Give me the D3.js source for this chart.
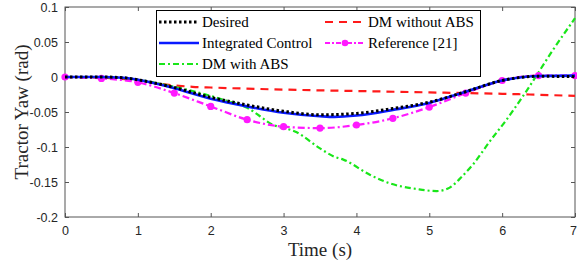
<!DOCTYPE html>
<html>
<head>
<meta charset="utf-8">
<script src="https://cdn.jsdelivr.net/npm/d3@7"></script>
<style>
  body { margin: 0; background: #fff; }
  svg { display: block; }
  .serif { font-family: 'Liberation Serif', 'Times New Roman', Times, serif; }
</style>
</head>
<body>
<svg id="chart" width="577" height="262"></svg>
<script>
// data
var xTicks = [0, 1, 2, 3, 4, 5, 6, 7]
var yTicks = [0.1, 0.05, 0, -0.05, -0.1, -0.15, -0.2]
var yTickLabels = ["0.1", "0.05", "0", "-0.05", "-0.1", "-0.15", "-0.2"]

var desiredT = [0, 0.5, 0.8, 1, 1.5, 2, 2.5, 3, 3.5, 4, 4.5, 5, 5.5, 6, 6.5, 7]
var desiredV = [0, 0, -0.001, -0.004, -0.015, -0.029, -0.040, -0.049, -0.054, -0.052, -0.045, -0.036, -0.021, -0.005, 0.001, 0.0005]

var integratedT = [0, 0.5, 0.8, 1, 1.5, 2, 2.5, 3, 3.5, 3.7, 4, 4.5, 5, 5.5, 6, 6.5, 7]
var integratedV = [0, 0, -0.001, -0.004, -0.016, -0.031, -0.042, -0.051, -0.056, -0.057, -0.055, -0.047, -0.037, -0.021, -0.005, 0.0015, 0.002]

var noAbsT = [0, 0.5, 1, 1.25, 1.5, 1.75, 2, 3, 4, 5, 6, 7]
var noAbsV = [0, -0.001, -0.005, -0.009, -0.012, -0.014, -0.015, -0.018, -0.020, -0.022, -0.024, -0.027]

var absT = [0, 0.5, 1, 1.5, 2, 2.25, 2.5, 2.85, 3.18, 3.5, 3.7, 3.82, 4.19, 4.46, 4.83, 5.1, 5.28, 5.45, 5.6, 5.83, 6.06, 6.34, 6.7, 7]
var absV = [0, 0, -0.004, -0.014, -0.027, -0.035, -0.044, -0.068, -0.079, -0.102, -0.114, -0.118, -0.140, -0.152, -0.160, -0.163, -0.158, -0.142, -0.125, -0.092, -0.061, -0.019, 0.039, 0.084]

var refT = [0, 0.5, 1, 1.5, 2, 2.5, 3, 3.5, 4, 4.5, 5, 5.5, 6, 6.5, 7]
var refV = [0, -0.002, -0.0076, -0.023, -0.042, -0.061, -0.071, -0.073, -0.0686, -0.059, -0.043, -0.023, -0.005, 0.002, 0.002]

var svg = d3.select("#chart")
var margin = {left: 65, right: 2, top: 7, bottom: 45}
var width = +svg.attr("width"), height = +svg.attr("height")

var x = d3.scaleLinear().domain([0, 7]).range([margin.left, width - margin.right])
var y = d3.scaleLinear().domain([-0.2, 0.1]).range([height - margin.bottom, margin.top])

var axisColor = "#555"

// box
svg.append("rect")
  .attr("x", x(0)).attr("y", y(0.1))
  .attr("width", x(7) - x(0)).attr("height", y(-0.2) - y(0.1))
  .attr("fill", "none").attr("stroke", axisColor).attr("stroke-width", 1)

// axes with inward ticks (matlab style)
var xAxis = svg.append("g").attr("transform", "translate(0," + y(-0.2) + ")")
  .call(d3.axisBottom(x).tickValues(xTicks).tickSize(-4).tickPadding(9).tickFormat(d3.format("d")))
var xTop = svg.append("g").attr("transform", "translate(0," + y(0.1) + ")")
  .call(d3.axisTop(x).tickValues(xTicks).tickSize(-4).tickFormat(""))
var yAxis = svg.append("g").attr("transform", "translate(" + x(0) + ",0)")
  .call(d3.axisLeft(y).tickValues(yTicks).tickSize(-4).tickPadding(7)
    .tickFormat(function(d, i) { return yTickLabels[i] }))
var yRight = svg.append("g").attr("transform", "translate(" + x(7) + ",0)")
  .call(d3.axisRight(y).tickValues(yTicks).tickSize(-4).tickFormat(""))

svg.selectAll(".domain").remove()
svg.selectAll(".tick line").attr("stroke", axisColor)
svg.selectAll(".tick text")
  .attr("font-family", "'Liberation Sans', Arial, sans-serif")
  .attr("font-size", 12.5)
  .attr("fill", "#262626")
// last x label sits at the edge, nudge it in
xAxis.selectAll(".tick text").filter(function(d) { return d === 7 }).attr("dx", -2)

// series
var line = d3.line()
  .x(function(d) { return x(d[0]) })
  .y(function(d) { return y(d[1]) })
  .curve(d3.curveMonotoneX)

function pairs(t, v) { return t.map(function(d, i) { return [d, v[i]] }) }

var plot = svg.append("g")

plot.append("path").datum(pairs(noAbsT, noAbsV))
  .attr("d", line).attr("fill", "none")
  .attr("stroke", "#ff1a1a").attr("stroke-width", 2.2).attr("stroke-dasharray", "8,6")

plot.append("path").datum(pairs(absT, absV))
  .attr("d", line).attr("fill", "none")
  .attr("stroke", "#19e619").attr("stroke-width", 2.2).attr("stroke-dasharray", "6,3,2,3")

plot.append("path").datum(pairs(refT, refV))
  .attr("d", line).attr("fill", "none")
  .attr("stroke", "#ff19ff").attr("stroke-width", 2.2).attr("stroke-dasharray", "7,3,2,3")

plot.selectAll(".refdot").data(pairs(refT, refV)).enter().append("circle")
  .attr("cx", function(d) { return x(d[0]) })
  .attr("cy", function(d) { return y(d[1]) })
  .attr("r", 3.6).attr("fill", "#ff19ff")

plot.append("path").datum(pairs(integratedT, integratedV))
  .attr("d", line).attr("fill", "none")
  .attr("stroke", "#0a1aff").attr("stroke-width", 2.6)

plot.append("path").datum(pairs(desiredT, desiredV))
  .attr("d", line).attr("fill", "none")
  .attr("stroke", "#000").attr("stroke-width", 3).attr("stroke-dasharray", "2.5,2.5")

// legend
var legend = svg.append("g")
legend.append("rect")
  .attr("x", 156.5).attr("y", 10.5).attr("width", 324).attr("height", 66)
  .attr("fill", "#fff").attr("stroke", "#000").attr("stroke-width", 1)

var legItems = [
  {name: "Desired", col: 0, row: 0, color: "#000", dash: "2.5,2.5", w: 3},
  {name: "Integrated Control", col: 0, row: 1, color: "#0a1aff", dash: null, w: 2.6},
  {name: "DM with ABS", col: 0, row: 2, color: "#19e619", dash: "6,3,2,3", w: 2.2},
  {name: "DM without ABS", col: 1, row: 0, color: "#ff1a1a", dash: "8,6", w: 2.2},
  {name: "Reference [21]", col: 1, row: 1, color: "#ff19ff", dash: "5,2,2,2", w: 2.2, dot: true}
]
var colX = [159, 325]
var rowY = [22, 43, 64]

legItems.forEach(function(it) {
  var x0 = colX[it.col], yy = rowY[it.row]
  legend.append("line")
    .attr("x1", x0).attr("x2", x0 + 40).attr("y1", yy).attr("y2", yy)
    .attr("stroke", it.color).attr("stroke-width", it.w)
    .attr("stroke-dasharray", it.dash)
  if (it.dot) {
    legend.append("circle").attr("cx", x0 + 20).attr("cy", yy).attr("r", 3.3).attr("fill", it.color)
  }
  legend.append("text")
    .attr("class", "serif")
    .attr("x", x0 + 43).attr("y", yy + 4.5)
    .attr("font-size", 15)
    .attr("fill", "#000")
    .text(it.name)
})

// axis titles
svg.append("text")
  .attr("class", "serif")
  .attr("x", (x(0) + x(7)) / 2).attr("y", 256)
  .attr("text-anchor", "middle")
  .attr("font-size", 19)
  .attr("fill", "#262626")
  .text("Time (s)")

svg.append("text")
  .attr("class", "serif")
  .attr("transform", "translate(28," + ((y(0.1) + y(-0.2)) / 2) + ") rotate(-90)")
  .attr("text-anchor", "middle")
  .attr("font-size", 19)
  .attr("fill", "#262626")
  .text("Tractor Yaw (rad)")
</script>
</body>
</html>
